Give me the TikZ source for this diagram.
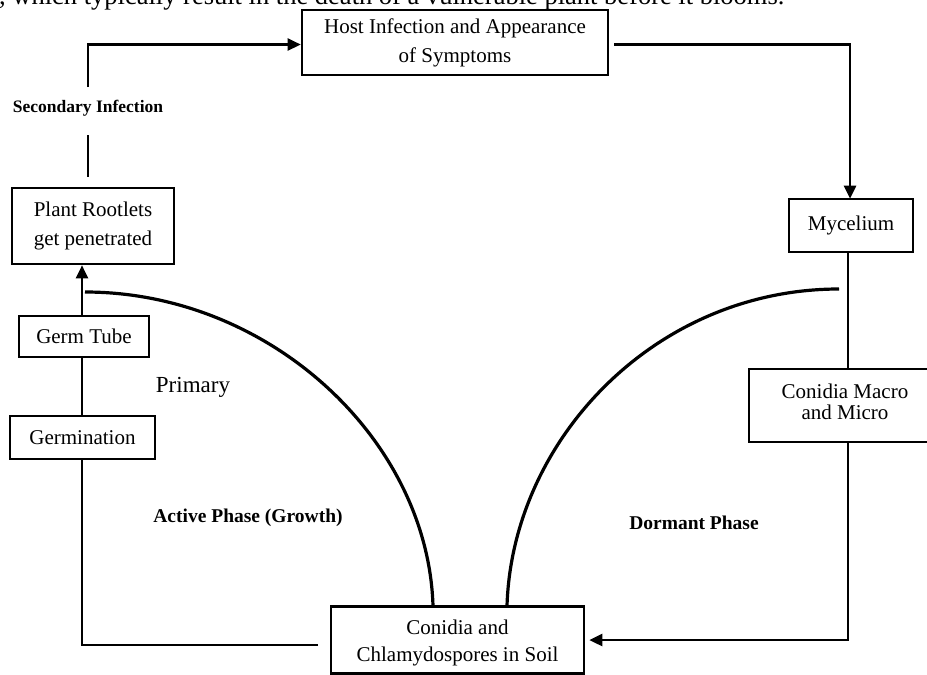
\documentclass[tikz,border=0pt]{standalone}
\usepackage{fontspec}
\setmainfont{Liberation Serif}
\usetikzlibrary{arrows.meta}
\tikzset{
  box/.style={draw=black, line width=2.6pt, fill=white, inner sep=0pt, align=center,
              font=\fontsize{21}{29}\selectfont},
  conn/.style={draw=black, line width=2.6pt},
  arr/.style={conn, -{Triangle[length=13pt,width=12pt]}},
  arc/.style={draw=black, line width=3.2pt},
  lbl/.style={inner sep=0pt, align=center},
}
\begin{document}
\begin{tikzpicture}[x=1pt,y=-1pt]
\useasboundingbox (0,0) rectangle (927,675);
\clip (0,0) rectangle (927,675);
\fill[white] (0,0) rectangle (927,675);

% cut-off sentence at the top
\node[lbl, anchor=base west, font=\fontsize{26.5}{30}\selectfont] (topline) at (-1,4)
  {, which typically result in the death of a vulnerable plant before it blooms.};

% boxes
\node[box, minimum width=306pt, minimum height=65pt] (host) at (455,42.5)
  {Host Infection and Appearance\\of Symptoms};
\node[box, minimum width=124pt, minimum height=53pt] (myc) at (851,225.5) {Mycelium};
\node[box, minimum width=186pt, minimum height=73pt] (macro) at (842,405.5) {};
\node[lbl, anchor=north, font=\fontsize{21}{21}\selectfont] (macrotxt) at (845,384)
  {Conidia Macro\\and Micro};
\node[box, minimum width=253pt, minimum height=67pt] (soil) at (457.5,640) {};
\node[lbl, font=\fontsize{21}{27}\selectfont] (soiltxt) at (457.5,643)
  {Conidia and\\Chlamydospores in Soil};
\node[box, minimum width=145pt, minimum height=43pt] (germ) at (82.5,437.5) {Germination};
\node[box, minimum width=130pt, minimum height=41pt] (tube) at (84,336.5) {Germ Tube};
\node[box, minimum width=162pt, minimum height=76pt] (root) at (93,226)
  {Plant Rootlets\\get penetrated};

% free labels
\node[lbl, font=\bfseries\fontsize{17.5}{20}\selectfont] (sec) at (88,108) {Secondary Infection};
\node[lbl, font=\fontsize{23}{26}\selectfont] (prim) at (193,387) {Primary};
\node[lbl, font=\bfseries\fontsize{19.5}{22}\selectfont] (active) at (248,518) {Active Phase (Growth)};
\node[lbl, font=\bfseries\fontsize{19.5}{22}\selectfont] (dormant) at (694,523) {Dormant Phase};

% coordinates
\coordinate (topY) at (88,44.5);
\coordinate (secA) at (88,87);
\coordinate (secB) at (88,135);
\coordinate (rootTop) at (88,177);
\coordinate (leftEnd) at (318,645);
\coordinate (arcLs) at (85,292);
\coordinate (arcRs) at (839,289);
\coordinate (soilArcL) at (433,606);
\coordinate (soilArcR) at (507,606);
\coordinate (rightX) at (850,44.5);

% connectors
\draw[arr] (secA) -- (topY) -- (host.west |- topY);
\draw[conn] (secB) -- (rootTop);
\draw[arr] ([xshift=5pt]host.east |- topY) -- (rightX) -- ([yshift=-1pt]myc.north -| rightX);
\draw[conn] (myc.south -| 848,0) -- (macro.north -| 848,0);
\draw[arr, shorten >=4pt] (macro.south -| 848,0) -- (848,640) -- (soil.east);
\draw[conn] (leftEnd) -- (82,645) -- (germ.south -| 82,0);
\draw[conn] (germ.north -| 82,0) -- (tube.south -| 82,0);
\draw[arr] (tube.north -| 82,0) -- (root.south -| 82,0);

% arcs
\draw[arc] (arcLs) .. controls (270,292) and (428,440) .. (soilArcL);
\draw[arc] (soilArcR) .. controls (512,440) and (655,289) .. (arcRs);
\end{tikzpicture}
\end{document}
